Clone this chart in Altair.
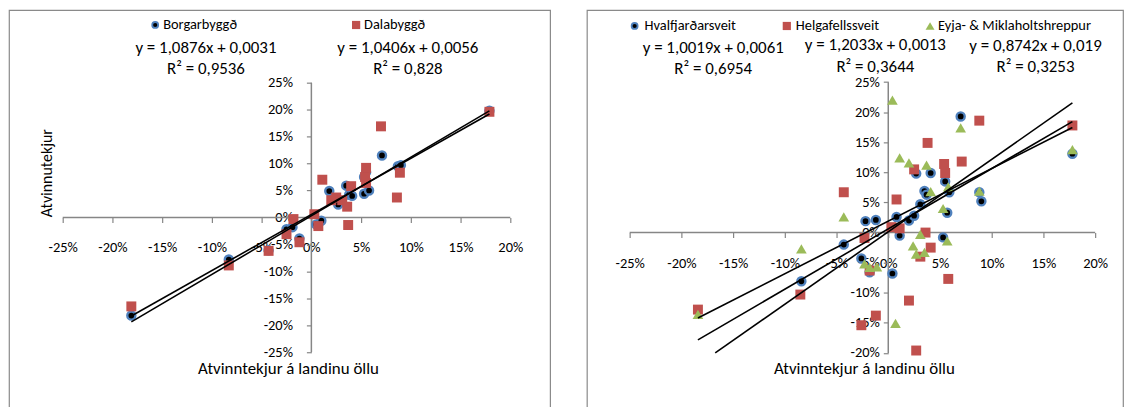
import altair as alt
import pandas as pd

FONT = "Carlito, Lato, sans-serif"
GRAY = "#868686"

# ---------------- data (percent) ----------------
# Left panel
borg_x = [-18.1, -8.3, -4.3, -2.5, -1.9, -1.2, 0.5, 1.0, 1.8, 2.4, 2.7, 3.5, 3.8, 4.1,
          5.3, 5.5, 5.3, 5.8, 7.1, 8.7, 9.0, 17.9]
borg_y = [-18.2, -7.8, -6.1, -2.2, -1.8, -3.9, -1.3, -0.6, 4.9, 3.4, 2.4, 5.9, 4.2, 4.0,
          7.5, 8.4, 4.4, 5.0, 11.5, 9.5, 9.7, 19.8]
dala_x = [-18.1, -8.3, -4.3, -2.5, -1.8, -1.2, 0.3, 0.7, 1.1, 2.0, 2.5, 3.1, 3.6, 3.7,
          4.0, 5.5, 5.4, 5.5, 7.0, 8.9, 8.6, 17.9]
dala_y = [-16.5, -8.9, -6.2, -3.1, -0.3, -4.6, 0.6, -1.6, 7.0, 3.2, 3.7, 3.2, 2.0, -1.4,
          5.8, 9.2, 7.5, 6.4, 16.9, 8.3, 3.7, 19.6]

# Right panel
hval_x = [-8.4, -4.3, -2.6, -2.2, -1.2, -1.8, 0.4, 0.8, 1.1, 2.0, 2.5, 2.7, 3.1, 3.5,
          3.7, 4.1, 5.3, 5.5, 5.7, 5.9, 7.0, 8.8, 9.0, 17.8]
hval_y = [-8.1, -2.0, -4.3, 1.9, 2.1, -6.6, -6.8, 2.6, -0.5, 2.0, 2.8, 9.8, 4.7, 6.9,
          6.3, 9.9, -0.8, 8.5, 3.3, 6.7, 19.3, 6.7, 5.2, 13.1]
helg_x = [-18.4, -8.5, -4.3, -2.3, -2.6, -1.2, -1.8, 0.3, 1.1, 0.8, 2.0, 2.5, 2.7, 3.1,
          3.6, 3.8, 4.1, 5.4, 5.5, 5.8, 7.1, 8.8, 17.8]
helg_y = [-12.8, -10.3, 6.7, -0.9, -15.4, -13.8, -6.3, 0.9, 0.7, 5.5, -11.3, 10.5, -19.6, -4.0,
          0.0, 14.9, -2.5, 11.4, 9.9, -7.7, 11.8, 18.6, 17.8]
eyja_x = [-18.4, -8.4, -4.3, -2.3, -1.8, -1.1, 0.4, 0.7, 1.1, 2.0, 2.4, 2.7, 3.1, 3.5,
          3.7, 4.1, 5.3, 5.7, 5.8, 7.0, 8.8, 17.8]
eyja_y = [-13.6, -2.7, 2.6, -5.2, -5.8, -5.7, 22.0, -15.1, 12.4, 11.6, -2.2, -3.6, -0.3, -3.3,
          11.2, 6.8, 4.0, -1.4, 7.6, 17.4, 6.9, 13.8]

# Trendlines (as printed on the chart)
left_names = ["Borgarbyggð", "Dalabyggð"]
left_slopes = [1.0876, 1.0406]
left_intercepts = [0.0031, 0.0056]
left_eq = ["y = 1,0876x + 0,0031", "y = 1,0406x + 0,0056"]
left_r2 = ["R² = 0,9536", "R² = 0,828"]

right_names = ["Hvalfjarðarsveit", "Helgafellssveit", "Eyja- & Miklaholtshreppur"]
right_slopes = [1.0019, 1.2033, 0.8742]
right_intercepts = [0.0061, 0.0013, 0.019]
right_eq = ["y = 1,0019x + 0,0061", "y = 1,2033x + 0,0013", "y = 0,8742x + 0,019"]
right_r2 = ["R² = 0,6954", "R² = 0,3644", "R² = 0,3253"]

x_ticks = [-25, -20, -15, -10, -5, 0, 5, 10, 15, 20]
y_ticks_left = [-25, -20, -15, -10, -5, 0, 5, 10, 15, 20, 25]
y_ticks_right = [-20, -15, -10, -5, 0, 5, 10, 15, 20, 25]
x_title = "Atvinntekjur á landinu öllu"
y_title = "Atvinnutekjur"

STYLES = {
    "circle": dict(shape="circle", filled=True, fill="black", stroke="#4f81bd",
                   strokeWidth=2.4, size=66, opacity=1),
    "square": dict(shape="square", filled=True, fill="#c0504d", strokeWidth=0,
                   size=100, opacity=1),
    "triangle": dict(shape="triangle-up", filled=True, fill="#9bbb59", strokeWidth=0,
                     size=115, opacity=1),
}
LEG_STYLES = {
    "circle": dict(shape="circle", filled=True, fill="black", stroke="#4f81bd",
                   strokeWidth=1.8, size=36, opacity=1),
    "square": dict(shape="square", filled=True, fill="#c0504d", strokeWidth=0,
                   size=68, opacity=1),
    "triangle": dict(shape="triangle-up", filled=True, fill="#9bbb59", strokeWidth=0,
                     size=80, opacity=1),
}


def text_layer(txt, x, y, size, align="center", angle=0):
    return alt.Chart(pd.DataFrame({"t": [txt]})).mark_text(
        font=FONT, fontSize=size, color="black", align=align, baseline="middle",
        angle=angle
    ).encode(x=alt.value(x), y=alt.value(y), text="t:N")


def build_panel(series, lines, geom, y_ticks, y_lo, legend, eqs, xt_pos,
                yt_pos, x_lab_pad, y_lab_pad):
    w, h, x0, xk, y0, yk = geom
    xdom = [-x0 / xk / 100, (w - x0) / xk / 100]
    ydom = [-(h - y0) / yk / 100, y0 / yk / 100]
    X = alt.X("x:Q", scale=alt.Scale(domain=xdom, nice=False, zero=False),
              axis=alt.Axis(values=[v / 100 for v in x_ticks], offset=-(h - y0),
                            domain=False, grid=False, ticks=True, tickSize=5,
                            tickColor=GRAY, tickWidth=1.2, title=None,
                            labelExpr="round(datum.value*100) + '%'",
                            labelFont=FONT, labelFontSize=14.5, labelColor="black",
                            labelBaseline="middle", labelPadding=x_lab_pad,
                            labelOverlap=False, labelFlush=False))
    Y = alt.Y("y:Q", scale=alt.Scale(domain=ydom, nice=False, zero=False),
              axis=alt.Axis(values=[v / 100 for v in y_ticks], offset=-x0,
                            domain=False, grid=False, ticks=True, tickSize=5,
                            tickColor=GRAY, tickWidth=1.2, title=None,
                            labelExpr="round(datum.value*100) + '%'",
                            labelFont=FONT, labelFontSize=14.5, labelColor="black",
                            labelPadding=y_lab_pad, labelOverlap=False,
                            labelFlush=False))
    layers = []
    # axis lines
    xa = pd.DataFrame({"x": [x_ticks[0] / 100], "x2": [x_ticks[-1] / 100], "y": [0.0]})
    layers.append(alt.Chart(xa).mark_rule(color=GRAY, strokeWidth=1.5).encode(
        x=X, x2="x2:Q", y=Y))
    ya = pd.DataFrame({"x": [0.0], "y": [y_ticks[0] / 100], "y2": [y_ticks[-1] / 100]})
    layers.append(alt.Chart(ya).mark_rule(color=GRAY, strokeWidth=1.5).encode(
        x=X, y=Y, y2="y2:Q"))
    # points
    for name, xs, ys, kind in series:
        df = pd.DataFrame({"x": [v / 100 for v in xs], "y": [v / 100 for v in ys],
                           "s": name})
        layers.append(alt.Chart(df).mark_point(**STYLES[kind]).encode(x=X, y=Y))
    # trendlines
    rows = []
    for name, m, b, xlo, xhi in lines:
        lo = max(xlo, (y_lo - b) / m)
        rows += [{"s": name, "x": lo, "m": m, "b": b}, {"s": name, "x": xhi, "m": m, "b": b}]
    ldf = pd.DataFrame(rows)
    layers.append(alt.Chart(ldf).transform_calculate(y="datum.m*datum.x + datum.b")
                  .mark_line(color="black", strokeWidth=1.6)
                  .encode(x=X, y=Y, detail="s:N"))
    # legend
    for kind, mx, my, label, tx in legend:
        layers.append(alt.Chart(pd.DataFrame({"s": [label]})).mark_point(**LEG_STYLES[kind])
                      .encode(x=alt.value(mx), y=alt.value(my)))
        layers.append(text_layer(label, tx, my, 14.5, align="left"))
    # equations
    for eq, r2, ex, ey, ry in eqs:
        layers.append(text_layer(eq, ex, ey, 17))
        layers.append(text_layer(r2, ex, ry, 17))
    # axis titles
    layers.append(text_layer(x_title, xt_pos[0], xt_pos[1], 17))
    if yt_pos is not None:
        layers.append(text_layer(y_title, yt_pos[0], yt_pos[1], 16, angle=270))
    return alt.layer(*layers).properties(width=w, height=h)


left = build_panel(
    series=[(left_names[0], borg_x, borg_y, "circle"),
            (left_names[1], dala_x, dala_y, "square")],
    lines=[(left_names[0], left_slopes[0], left_intercepts[0], -0.181, 0.179),
           (left_names[1], left_slopes[1], left_intercepts[1], -0.181, 0.179)],
    geom=(544, 400, 304, 10.0, 208.5, 5.42),
    y_ticks=y_ticks_left, y_lo=-0.25,
    legend=[("circle", 147, 15, left_names[0], 155),
            ("square", 349, 15, left_names[1], 357)],
    eqs=[(left_eq[0], left_r2[0], 198, 38, 59),
         (left_eq[1], left_r2[1], 401, 38, 59)],
    xt_pos=(281, 361), yt_pos=(38, 164), x_lab_pad=25, y_lab_pad=14,
)

right = build_panel(
    series=[(right_names[0], hval_x, hval_y, "circle"),
            (right_names[1], helg_x, helg_y, "square"),
            (right_names[2], eyja_x, eyja_y, "triangle")],
    lines=[(right_names[0], right_slopes[0], right_intercepts[0], -0.184, 0.178),
           (right_names[1], right_slopes[1], right_intercepts[1], -0.184, 0.178),
           (right_names[2], right_slopes[2], right_intercepts[2], -0.184, 0.178)],
    geom=(539, 400, 303, 10.4, 223.7, 6.05),
    y_ticks=y_ticks_right, y_lo=-0.20,
    legend=[("circle", 48, 16, right_names[0], 58),
            ("square", 201, 16, right_names[1], 210),
            ("triangle", 345, 16, right_names[2], 353)],
    eqs=[(right_eq[0], right_r2[0], 127, 38, 59),
         (right_eq[1], right_r2[1], 290, 35.5, 57),
         (right_eq[2], right_r2[2], 451, 36, 57)],
    xt_pos=(279, 361), yt_pos=None, x_lab_pad=26, y_lab_pad=4,
)

chart = alt.hconcat(left, right, spacing=35).properties(padding=0).configure_view(
    stroke="#8a8a8a", strokeWidth=1.2
)

chart.save("out.html", embed_options={"renderer": "svg", "actions": False})
